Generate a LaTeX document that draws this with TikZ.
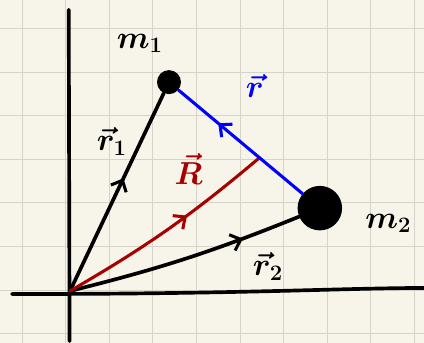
\documentclass[tikz,border=0pt]{standalone}
\usepackage[dvipsnames]{xcolor}
\definecolor{paper}{RGB}{247,244,233}
\definecolor{gridline}{RGB}{214,212,200}
\colorlet{myblue}{blue}
\colorlet{myred}{red!65!black}
\usetikzlibrary{calc}
\usetikzlibrary{arrows.meta}
\usetikzlibrary{decorations.markings}
\tikzset{
  pen/.style={line width=2.4pt, line cap=round},
  mass/.style={circle, fill=black, inner sep=0pt},
  hand/.style={font=\huge\boldmath},
  midarrow/.style={postaction={decorate}, decoration={markings,
      mark=at position #1 with {\arrow{Straight Barb[length=6pt,width=11pt,line width=2pt]}}}}
}
\begin{document}
\begin{tikzpicture}
      \useasboundingbox[fill=paper] (-1.606cm,-1.193cm) rectangle (8.119cm,6.674cm);
      \draw[gridline, line width=0.6pt] foreach \x in {-1.1,-0.1,...,7.9}{(\x cm,-1.193cm) -- (\x cm,6.674cm)};
      \draw[gridline, line width=0.6pt] foreach \y in {-0.98,0.02,...,6.02}{(-1.606cm,\y cm) -- (8.119cm,\y cm)};
      \draw[pen] (-0.01cm,-1.15cm) -- (-0.03cm,6.45cm);
      \draw[pen] (-1.33cm,-0.07cm) .. controls (4cm,-0.07cm) and (6cm,0.06cm) .. (8.12cm,0.07cm);

      \coordinate (O) at (0cm,0cm);
      \node[mass, minimum size=0.55cm] (m1) at (2.27cm,4.79cm) {};
      \node[mass, minimum size=1.02cm] (m2) at (5.73cm,1.90cm) {};
      \coordinate (Rend) at ($(m1)!0.6!(m2)$);

      \draw[pen, midarrow=0.57] (O) -- (m1);
      \draw[pen, midarrow=0.75] (O) to[bend right=4] (m2);
      \draw[pen, myred, line width=2pt, midarrow=0.6] (O) to[bend right=5] (Rend);
      \draw[pen, myblue, line width=2pt, midarrow=0.68] (m2) -- (m1);

      \node[hand] (lm1) at (1.6cm,5.68cm) {$m_1$};
      \node[hand] (lm2) at (7.3cm,1.55cm) {$m_2$};
      \node[hand] (lr1) at (0.96cm,3.42cm) {$\vec r_1$};
      \node[hand] (lr2) at (4.54cm,0.57cm) {$\vec r_2$};
      \node[hand, myred] (lR) at (2.72cm,2.8cm) {$\vec R$};
      \node[hand, myblue] (lr) at (4.24cm,4.7cm) {$\vec r$};
    \end{tikzpicture}
\end{document}
